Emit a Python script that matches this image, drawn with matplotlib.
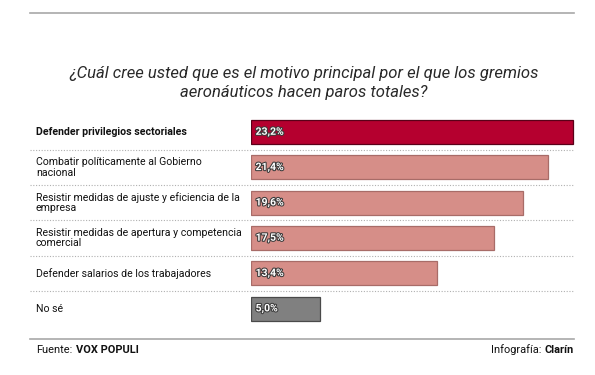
import matplotlib
matplotlib.use("Agg")
import matplotlib.pyplot as plt
import matplotlib.patheffects as pe
from matplotlib.transforms import blended_transform_factory

categories = [
    "Defender privilegios sectoriales",
    "Combatir políticamente al Gobierno\nnacional",
    "Resistir medidas de ajuste y eficiencia de la\nempresa",
    "Resistir medidas de apertura y competencia\ncomercial",
    "Defender salarios de los trabajadores",
    "No sé",
]
values = [23.2, 21.4, 19.6, 17.5, 13.4, 5.0]
value_labels = ["23,2%", "21,4%", "19,6%", "17,5%", "13,4%", "5,0%"]
face_colors = ["#b5002f", "#d68e88", "#d68e88", "#d68e88", "#d68e88", "#808080"]
edge_colors = ["#5a0018", "#a86c68", "#a86c68", "#a86c68", "#a86c68", "#4a4a4a"]

W, H = 595, 375
fig = plt.figure(figsize=(W / 100, H / 100), dpi=100)
fig.patch.set_facecolor("white")

def fx(px):
    return px / W

def fy(py):
    return 1 - py / H

# bar axes: 0 starts at x=251px, 13.88 px per percent point
ax_left, ax_right = 251, 595
ax_top, ax_bot = 114.3, 326.2
ax = fig.add_axes([fx(ax_left), fy(ax_bot), fx(ax_right - ax_left), (ax_bot - ax_top) / H])
ax.set_xlim(0, (ax_right - ax_left) / 13.88)
ax.set_ylim(len(values) - 0.5, -0.5)
ax.axis("off")

ypos = list(range(len(values)))
ax.barh(ypos, values, height=0.68, color=face_colors, edgecolor=edge_colors, linewidth=0.9)

trans = blended_transform_factory(fig.transFigure, ax.transData)
for i, (cat, lab) in enumerate(zip(categories, value_labels)):
    ax.text(fx(36), i, cat, transform=trans, ha="left", va="center",
            fontsize=7.6, family="Roboto", color="#111111",
            fontweight="bold" if i == 0 else "normal", linespacing=1.1)
    ax.text(0.33, i, lab, ha="left", va="center", fontsize=7.5,
            family="Roboto", fontweight="bold", color="white",
            path_effects=[pe.withStroke(linewidth=1.5, foreground="#3a3a3a")])

# dotted separators
for i in range(len(values) - 1):
    ax.plot([fx(30), fx(574)], [i + 0.5, i + 0.5], transform=trans, color="#b0b0b0",
            linestyle=(0, (1, 1.5)), linewidth=0.8, clip_on=False)

# top and bottom rules
fig.add_artist(plt.Line2D([fx(30), fx(574)], [fy(13), fy(13)], color="#a8a8a8", linewidth=1.2))
fig.add_artist(plt.Line2D([fx(30), fx(574)], [fy(339), fy(339)], color="#a8a8a8", linewidth=1.2))

fig.text(fx(304), fy(83), "¿Cuál cree usted que es el motivo principal por el que los gremios\naeronáuticos hacen paros totales?",
         ha="center", va="center", fontsize=12.0, family="Roboto", style="italic",
         color="#2a2a2a", linespacing=1.3)

src = fig.text(fx(36), fy(350), "Fuente:", ha="left", va="center", fontsize=7.9,
               family="Roboto", color="#111111")
fig.add_artist(plt.Annotation("VOX POPULI", xy=(1, 0.5), xycoords=src, xytext=(2.5, 0),
                              textcoords="offset points", ha="left", va="center", fontsize=7.9,
                              family="Roboto", fontweight="bold", color="#111111"))
brand = fig.text(fx(574), fy(350), "Clarín", ha="right", va="center", fontsize=7.9,
                 family="Roboto", fontweight="bold", color="#111111")
fig.add_artist(plt.Annotation("Infografía:", xy=(0, 0.5), xycoords=brand, xytext=(-2.5, 0),
                              textcoords="offset points", ha="right", va="center", fontsize=7.9,
                              family="Roboto", color="#111111"))

fig.savefig("out.png", dpi=100, facecolor="white")
